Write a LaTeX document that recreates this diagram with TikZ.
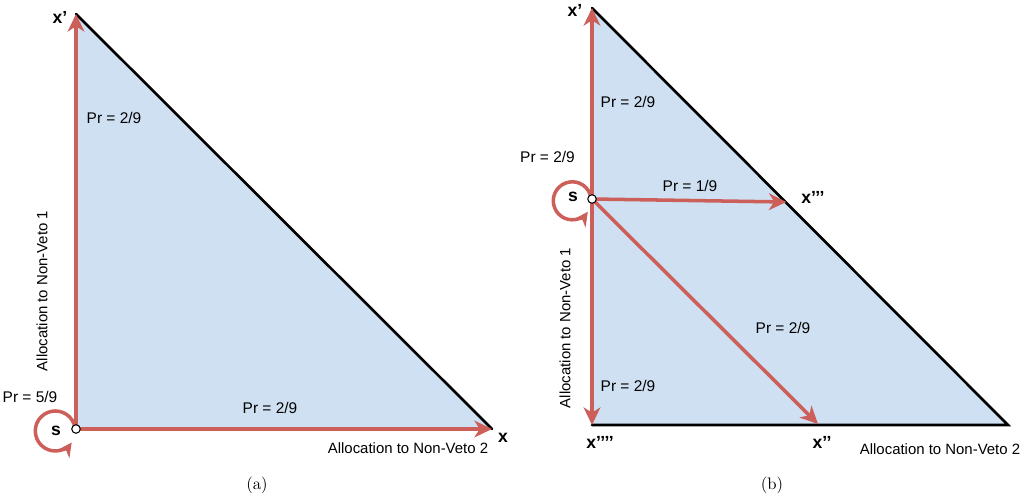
\documentclass[tikz,border=0pt]{standalone}
\usepackage{fontspec}
\setsansfont{Liberation Sans}
\usepackage{tikz}
\usetikzlibrary{arrows.meta}
\definecolor{prred}{RGB}{205,95,90}
\definecolor{simplex}{RGB}{207,224,242}
\tikzset{
  prarrow/.style={line width=2pt, prred, -{Stealth[length=10pt,width=9.5pt,inset=3pt]}},
  prloop/.style={line width=2pt, prred, -{Stealth[length=8pt,width=8pt,inset=2.5pt]}},
  prlab/.style={font=\sffamily\fontsize{8.8}{10}\selectfont, inner sep=1pt},
  axlab/.style={font=\sffamily\fontsize{8.5}{10}\selectfont, inner sep=1pt},
  vlab/.style={font=\sffamily\bfseries\fontsize{10}{11}\selectfont, inner sep=1pt},
  statept/.style={circle, draw=black, fill=white, line width=0.6pt, inner sep=0pt, minimum size=0.17cm},
}
\begin{document}
\begin{tikzpicture}[>=stealth, scale=1]
  \useasboundingbox (0,0) rectangle (20.42,10.04);
  \path
  (1.52,1.46) coordinate (sa)
  (1.52,9.76) coordinate (xa1)
  (9.84,1.46) coordinate (xa)
  (11.84,9.88) coordinate (xb1)
  (11.84,6.06) coordinate (sb)
  (11.84,1.54) coordinate (xb4)
  (20.16,1.54) coordinate (br)
  (15.73,6.0) coordinate (xb3)
  (16.36,1.56) coordinate (xb2)
  ;

  % panel (a)
  \fill[simplex] (sa) -- (xa1) -- (xa) -- cycle;
  \draw[line width=1.5pt, black, line cap=round] (xa1) -- (xa);
  \draw[prarrow] (sa) -- (xa1);
  \draw[prarrow] (sa) -- (xa);
  \draw[prloop] ([shift={(-0.02,0.03)}]sa) arc[start angle=10, end angle=325, radius=0.4cm];
  \node[statept] (sadot) at (sa) {};

  \node[vlab] (sname) at (1.12,1.42) {s};
  \node[vlab] (xa1name) at (1.2,9.7) {x’};
  \node[vlab] (xaname) at (10.06,1.28) {x};
  \node[prlab] (pa1) at (2.28,7.68) {Pr = 2/9};
  \node[prlab] (pa2) at (0.6,2.1) {Pr = 5/9};
  \node[prlab] (pa3) at (5.4,1.88) {Pr = 2/9};
  \node[axlab, rotate=90] (axa1) at (0.84,4.22) {Allocation to Non-Veto 1};
  \node[axlab] (axa2) at (8.16,1.08) {Allocation to Non-Veto 2};
  \node[font=\fontsize{9.5}{11}\selectfont] (capa) at (5.14,0.34) {(a)};

  % panel (b)
  \fill[simplex] (xb4) -- (xb1) -- (br) -- cycle;
  \draw[line width=1.5pt, black, line cap=round] (xb1) -- (br) -- (xb4);
  \draw[prarrow] (sb) -- (xb1);
  \draw[prarrow] (sb) -- (xb4);
  \draw[prarrow] (sb) -- (xb3);
  \draw[prarrow] (sb) -- (xb2);
  \draw[prloop] ([shift={(-0.02,0.03)}]sb) arc[start angle=10, end angle=325, radius=0.38cm];
  \node[statept] (sbdot) at (sb) {};

  \node[vlab] (sbname) at (11.46,6.1) {s};
  \node[vlab] (xb1name) at (11.5,9.84) {x’};
  \node[vlab] (xb3name) at (16.26,6.1) {x’’’};
  \node[vlab] (xb4name) at (12.0,1.2) {x’’’’};
  \node[vlab] (xb2name) at (16.44,1.2) {x’’};
  \node[prlab] (pb1) at (12.56,8.0) {Pr = 2/9};
  \node[prlab] (pb2) at (10.95,6.9) {Pr = 2/9};
  \node[prlab] (pb3) at (13.8,6.32) {Pr = 1/9};
  \node[prlab] (pb4) at (15.66,3.48) {Pr = 2/9};
  \node[prlab] (pb5) at (12.56,2.32) {Pr = 2/9};
  \node[axlab, rotate=90] (axb1) at (11.30,3.48) {Allocation to Non-Veto 1};
  \node[axlab] (axb2) at (18.8,1.06) {Allocation to Non-Veto 2};
  \node[font=\fontsize{9.5}{11}\selectfont] (capb) at (15.44,0.34) {(b)};
\end{tikzpicture}
\end{document}
